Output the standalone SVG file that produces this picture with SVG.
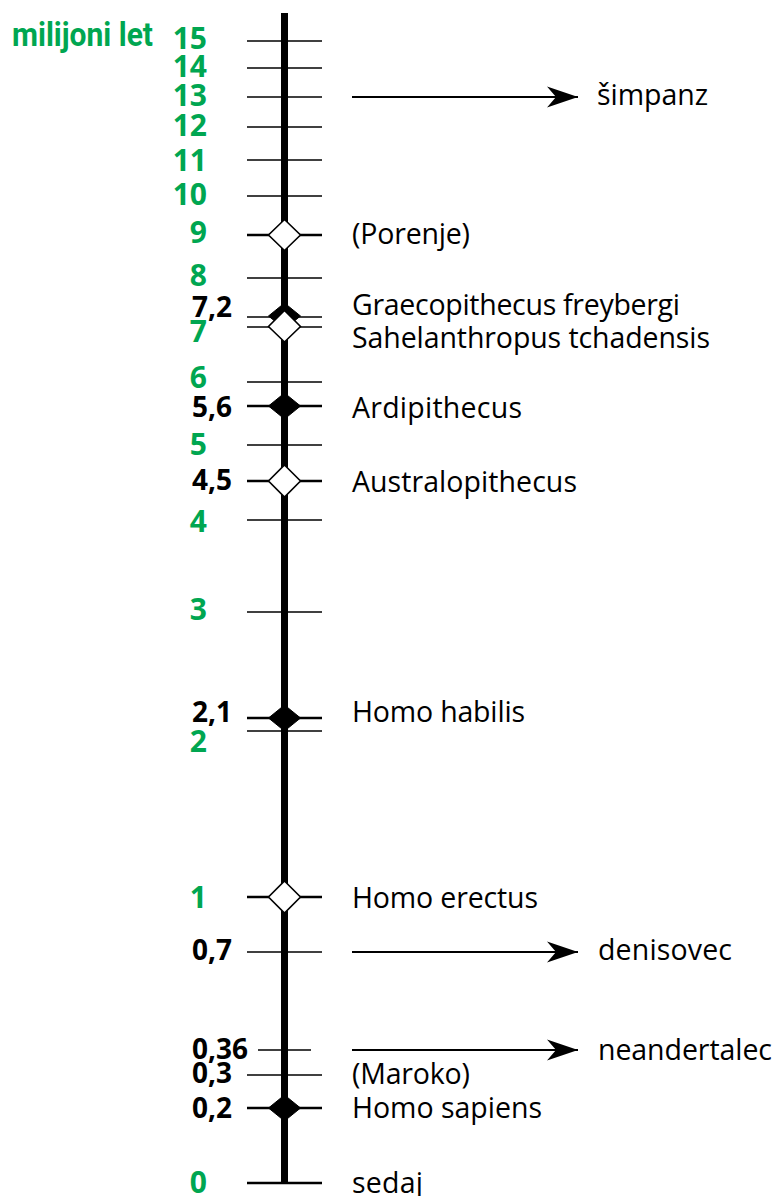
<svg xmlns="http://www.w3.org/2000/svg" width="775" height="1196" viewBox="0 0 775 1196">
<style>
.num{font-family:"Open Sans","Noto Sans",sans-serif;font-weight:700;font-size:28px;text-anchor:end}
.g{fill:#00a651;font-size:30px}
.k{fill:#000}
.lbl{font-family:"Open Sans","Noto Sans",sans-serif;font-size:28.5px;fill:#000}
.tick{stroke:#000;stroke-width:1.3;fill:none}
.tk{stroke:#000;stroke-width:2.4;fill:none}
.wd{fill:#fff;stroke:#000;stroke-width:1.6}
.bd{fill:#000;stroke:#000;stroke-width:1}
.arr{stroke:#000;stroke-width:2;fill:none}
</style>
<defs>
<marker id="ah" markerWidth="32" markerHeight="22" refX="31" refY="11" orient="auto" markerUnits="userSpaceOnUse">
<path d="M31,11 L0,0.5 L9,11 L0,21.5 Z" fill="#000"/>
</marker>
</defs>
<rect width="775" height="1196" fill="#fff"/>
<text x="12" y="46" font-family="Roboto,'Open Sans',sans-serif" font-weight="700" font-size="34" fill="#00a651" textLength="141" lengthAdjust="spacingAndGlyphs">milijoni let</text>
<g id="ticks">
<line class="tick" x1="247" y1="41" x2="322" y2="41"/>
<line class="tick" x1="247" y1="68" x2="322" y2="68"/>
<line class="tick" x1="247" y1="97" x2="322" y2="97"/>
<line class="tick" x1="247" y1="127" x2="322" y2="127"/>
<line class="tick" x1="247" y1="160" x2="322" y2="160"/>
<line class="tick" x1="247" y1="196" x2="322" y2="196"/>
<line class="tk" x1="247" y1="235" x2="322" y2="235"/>
<line class="tick" x1="247" y1="278" x2="322" y2="278"/>
<line class="tick" x1="247" y1="317" x2="322" y2="317"/>
<line class="tick" x1="247" y1="327" x2="322" y2="327"/>
<line class="tick" x1="247" y1="382" x2="322" y2="382"/>
<line class="tk" x1="247" y1="406" x2="322" y2="406"/>
<line class="tick" x1="247" y1="445" x2="322" y2="445"/>
<line class="tk" x1="247" y1="481" x2="322" y2="481"/>
<line class="tick" x1="247" y1="520" x2="322" y2="520"/>
<line class="tick" x1="247" y1="612" x2="322" y2="612"/>
<line class="tk" x1="247" y1="718" x2="322" y2="718"/>
<line class="tick" x1="247" y1="731" x2="322" y2="731"/>
<line class="tk" x1="247" y1="897" x2="322" y2="897"/>
<line class="tick" x1="247" y1="952" x2="322" y2="952"/>
<line class="tick" x1="258" y1="1050" x2="311" y2="1050"/>
<line class="tick" x1="247" y1="1075" x2="322" y2="1075"/>
<line class="tk" x1="247" y1="1108" x2="322" y2="1108"/>
<line class="tk" x1="247" y1="1183" x2="322" y2="1183"/>
</g>
<g id="axis">
<line x1="284.5" y1="13" x2="284.5" y2="1184" stroke="#000" stroke-width="7"/>
</g>
<g id="markers">
<path id="m9" class="wd" d="M284.5,219.5 L300.5,235 L284.5,250.5 L268.5,235 Z"/>
<path id="m72" class="bd" d="M284.5,303 L300.5,316 L284.5,329 L268.5,316 Z"/>
<path id="m7" class="wd" d="M284.5,310.5 L300.5,326.5 L284.5,342 L268.5,326.5 Z"/>
<path id="m56" class="bd" d="M284.5,393 L300.5,406 L284.5,419 L268.5,406 Z"/>
<path id="m45" class="wd" d="M284.5,465 L300.5,481 L284.5,497 L268.5,481 Z"/>
<path id="m21" class="bd" d="M284.5,705 L300.5,718 L284.5,731 L268.5,718 Z"/>
<path id="m1" class="wd" d="M284.5,881 L300.5,897 L284.5,913 L268.5,897 Z"/>
<path id="m02" class="bd" d="M284.5,1095 L300.5,1108 L284.5,1121 L268.5,1108 Z"/>
</g>
<g id="connectors">
<line class="arr" x1="352" y1="97" x2="578" y2="97" marker-end="url(#ah)"/>
<line class="arr" x1="352" y1="952" x2="578" y2="952" marker-end="url(#ah)"/>
<line class="arr" x1="352" y1="1050" x2="578" y2="1050" marker-end="url(#ah)"/>
</g>
<g id="scale">
<text class="num g" x="207" y="49">15</text>
<text class="num g" x="207" y="77">14</text>
<text class="num g" x="207" y="106">13</text>
<text class="num g" x="207" y="136">12</text>
<text class="num g" x="207" y="171">11</text>
<text class="num g" x="207" y="205">10</text>
<text class="num g" x="207" y="243">9</text>
<text class="num g" x="207" y="286">8</text>
<text class="num k" x="232" y="317">7,2</text>
<text class="num g" x="207" y="342">7</text>
<text class="num g" x="207" y="388">6</text>
<text class="num k" x="232" y="417">5,6</text>
<text class="num g" x="207" y="455">5</text>
<text class="num k" x="232" y="490">4,5</text>
<text class="num g" x="207" y="532">4</text>
<text class="num g" x="207" y="620">3</text>
<text class="num k" x="232" y="722">2,1</text>
<text class="num g" x="207" y="752">2</text>
<text class="num g" x="207" y="908">1</text>
<text class="num k" x="232" y="960">0,7</text>
<text class="num k" x="248" y="1059">0,36</text>
<text class="num k" x="232" y="1083">0,3</text>
<text class="num k" x="232" y="1118">0,2</text>
<text class="num g" x="207" y="1193">0</text>
</g>
<g id="labels">
<text id="simpanz" class="lbl" x="597" y="105" textLength="111">šimpanz</text>
<text id="porenje" class="lbl" x="352" y="244" textLength="118">(Porenje)</text>
<text id="graeco" class="lbl" x="352" y="315" textLength="328">Graecopithecus freybergi</text>
<text id="sahel" class="lbl" x="352" y="348" textLength="358">Sahelanthropus tchadensis</text>
<text id="ardi" class="lbl" x="352" y="418" textLength="170">Ardipithecus</text>
<text id="austr" class="lbl" x="352" y="492" textLength="225">Australopithecus</text>
<text id="habilis" class="lbl" x="352" y="722" textLength="173">Homo habilis</text>
<text id="erectus" class="lbl" x="352" y="908" textLength="186">Homo erectus</text>
<text id="deniso" class="lbl" x="598" y="960" textLength="134">denisovec</text>
<text id="neander" class="lbl" x="598" y="1060" textLength="174">neandertalec</text>
<text id="maroko" class="lbl" x="352" y="1084" textLength="118">(Maroko)</text>
<text id="sapiens" class="lbl" x="352" y="1118" textLength="190">Homo sapiens</text>
<text id="sedaj" class="lbl" x="352" y="1193" textLength="71">sedaj</text>
</g>
</svg>
